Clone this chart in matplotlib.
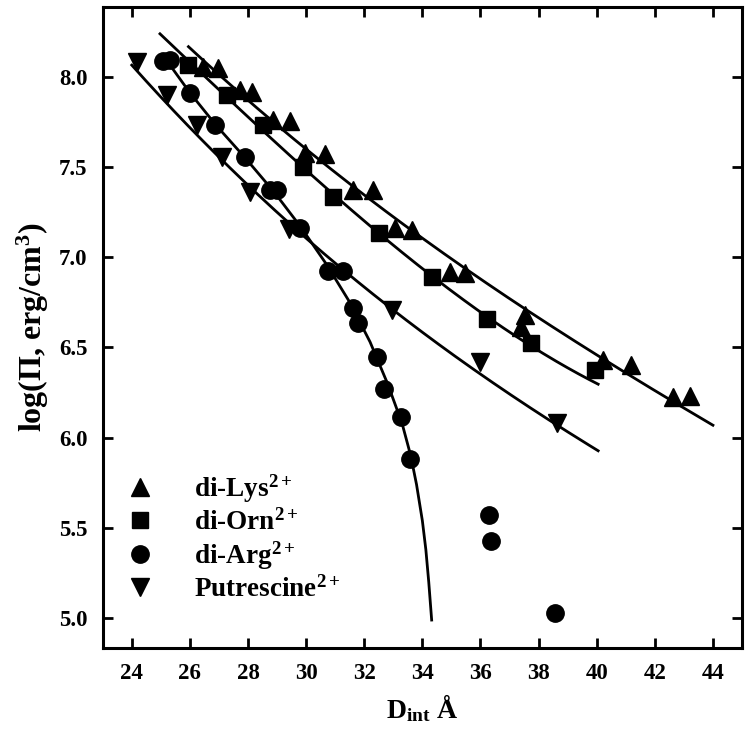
import numpy as np
import matplotlib
matplotlib.use("Agg")
import matplotlib.pyplot as plt

plt.rcParams['font.family'] = ['Liberation Serif', 'DejaVu Serif']
plt.rcParams['font.weight'] = 'bold'
plt.rcParams['mathtext.fontset'] = 'custom'
plt.rcParams['mathtext.rm'] = 'Liberation Serif:bold'
plt.rcParams['mathtext.it'] = 'Liberation Serif:bold'
plt.rcParams['mathtext.bf'] = 'Liberation Serif:bold'

# di-Lys2+ (triangles up)
lys_x = [26.46, 26.98, 27.72, 28.13, 28.87, 29.44, 29.96, 30.65, 31.62, 32.31,
         33.05, 33.63, 34.95, 35.46, 37.53, 37.41, 40.22, 41.19, 42.62, 43.20]
lys_y = [8.054, 8.045, 7.925, 7.916, 7.759, 7.755, 7.575, 7.571, 7.372, 7.372,
         7.159, 7.150, 6.919, 6.910, 6.679, 6.615, 6.430, 6.403, 6.227, 6.231]
# fitted curve
lys_curve_x = [25.95, 29.10, 31.62, 33.57, 35.29, 38.73, 40.22, 42.62, 44.0]
lys_curve_y = [8.165, 7.713, 7.399, 7.168, 6.938, 6.578, 6.449, 6.209, 6.061]

# di-Orn2+ (squares)
orn_x = [25.95, 27.27, 28.53, 29.90, 30.93, 32.50, 34.32, 36.21, 37.75, 39.93]
orn_y = [8.064, 7.898, 7.731, 7.501, 7.334, 7.136, 6.891, 6.658, 6.523, 6.375]
orn_curve_x = [24.97, 27.27, 30.93, 34.32, 37.75, 40.05]
orn_curve_y = [8.23, 7.90, 7.34, 6.89, 6.52, 6.29]

# di-Arg2+ (circles)
arg_x = [25.08, 25.32, 26.00, 26.86, 27.90, 28.76, 29.00, 29.79, 30.76, 31.28,
         31.62, 31.79, 32.43, 32.68, 33.28, 33.57, 36.28, 36.35, 38.58]
arg_y = [8.086, 8.090, 7.907, 7.731, 7.556, 7.372, 7.372, 7.159, 6.925, 6.925,
         6.716, 6.633, 6.445, 6.270, 6.115, 5.880, 5.572, 5.430, 5.031]
arg_curve_x = [25.15, 26.0, 26.9, 27.9, 28.9, 29.8, 30.7, 31.5, 32.2, 32.8,
               33.3, 33.6, 33.8, 34.0, 34.12, 34.22, 34.32]
arg_curve_y = [8.10, 7.91, 7.73, 7.55, 7.36, 7.17, 6.96, 6.75, 6.53, 6.30,
               6.08, 5.90, 5.74, 5.54, 5.38, 5.20, 4.99]

# Putrescine2+ (triangles down)
put_x = [24.17, 25.20, 26.24, 27.09, 28.07, 29.41, 32.94, 35.98, 38.62]
put_y = [8.082, 7.898, 7.731, 7.556, 7.362, 7.156, 6.707, 6.421, 6.080]
put_curve_x = [24.0, 26.24, 28.07, 29.41, 32.94, 35.98, 38.62, 40.05]
put_curve_y = [8.045, 7.72, 7.38, 7.17, 6.70, 6.37, 6.08, 5.917]

labels = [r'di-Lys$^{2+}$', r'di-Orn$^{2+}$', r'di-Arg$^{2+}$', r'Putrescine$^{2+}$']
xticks = [24, 26, 28, 30, 32, 34, 36, 38, 40, 42, 44]
yticks = [5.0, 5.5, 6.0, 6.5, 7.0, 7.5, 8.0]

fig = plt.figure(figsize=(7.51, 7.51), dpi=100)
ax = fig.add_axes([0.1368, 0.1376, 0.8512, 0.8531])


def smooth_curve(xs, ys):
    c = np.polyfit(xs, ys, 3)
    xx = np.linspace(xs[0], xs[-1], 200)
    return xx, np.polyval(c, xx)

lw = 2.0
for xs, ys in [(lys_curve_x, lys_curve_y), (orn_curve_x, orn_curve_y),
               (put_curve_x, put_curve_y)]:
    xx, yy = smooth_curve(xs, ys)
    ax.plot(xx, yy, color='black', lw=lw, zorder=2)
ax.plot(arg_curve_x, arg_curve_y, color='black', lw=lw, zorder=2)

ax.plot(lys_x, lys_y, '^', color='black', ms=13.5, ls='none', label=labels[0], zorder=3)
ax.plot(orn_x, orn_y, 's', color='black', ms=11.5, ls='none', label=labels[1], zorder=3)
ax.plot(arg_x, arg_y, 'o', color='black', ms=12.5, ls='none', label=labels[2], zorder=3)
ax.plot(put_x, put_y, 'v', color='black', ms=13.5, ls='none', label=labels[3], zorder=3)

ax.set_xlim(23, 45)
ax.set_ylim(4.837, 8.385)
ax.set_xticks(xticks)
ax.set_yticks(yticks)
ax.set_xticklabels([str(t) for t in xticks])
ax.set_yticklabels([f'{t:.1f}' for t in yticks])
ax.tick_params(direction='in', length=7, width=2, top=True, right=True,
               labelsize=16.5, pad=11)
for lab in ax.get_xticklabels() + ax.get_yticklabels():
    lab.set_fontweight('bold')
for s in ax.spines.values():
    s.set_linewidth(2.2)

ax.set_xlabel(r'D$_{\mathrm{int}}$ Å', fontsize=20, fontweight='bold', labelpad=6)
ax.set_ylabel(r'log($\Pi$, erg/cm$^{3}$)', fontsize=23, fontweight='bold', labelpad=6)

leg = ax.legend(loc='upper left', bbox_to_anchor=(0.02, 0.29), frameon=False,
                prop={'size': 19.5, 'weight': 'bold'}, handletextpad=1.5,
                labelspacing=0.15, borderaxespad=0.0, handlelength=1.0)

fig.savefig('out.png', dpi=100)
